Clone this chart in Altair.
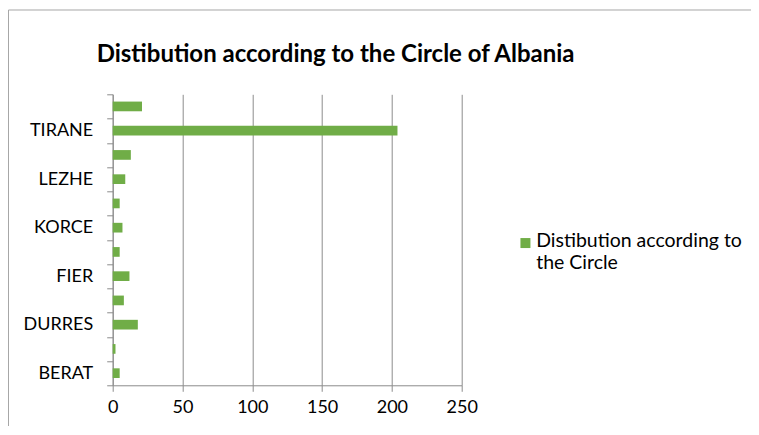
import altair as alt
import pandas as pd

# Categories top -> bottom
circles = ["VLORE", "TIRANE", "SHKODER", "LEZHE", "KUKES", "KORCE",
           "GJIROKASTER", "FIER", "ELBASAN", "DURRES", "DIBER", "BERAT"]
values = [21, 204, 13, 9, 5, 7, 5, 12, 8, 18, 2, 5]
shown_labels = ["TIRANE", "LEZHE", "KORCE", "FIER", "DURRES", "BERAT"]
x_ticks = [0, 50, 100, 150, 200, 250]
series_name = "Distibution according to the Circle"
legend_lines = ["Distibution according to", "the Circle"]
title_text = "Distibution according to the Circle of Albania"

df = pd.DataFrame({"circle": circles, "value": values, "series": series_name})

FONT = "Lato"
GREEN = "#70ad47"
GRID = "#8c8c8c"

shown_js = "[" + ",".join("'%s'" % s for s in shown_labels) + "]"
legend_js = "[" + ",".join("'%s'" % s for s in legend_lines) + "]"

bars = alt.Chart(df).mark_bar(color=GREEN, height=alt.RelativeBandSize(0.4)).encode(
    x=alt.X("value:Q",
            scale=alt.Scale(domain=[0, 250], nice=False),
            axis=alt.Axis(values=x_ticks, title=None, grid=True, gridColor=GRID,
                          domainColor=GRID, tickColor=GRID, tickSize=6,
                          labelFont=FONT, labelFontSize=18, labelColor="#000",
                          labelPadding=7, labelFlush=False)),
    y=alt.Y("circle:N", sort=circles,
            scale=alt.Scale(paddingInner=0, paddingOuter=0),
            axis=alt.Axis(title=None, tickBand="extent", tickSize=6,
                          tickColor=GRID, domainColor=GRID,
                          labelFont=FONT, labelFontSize=18, labelColor="#000",
                          labelPadding=14,
                          labelExpr="indexof(%s, datum.value) >= 0 ? datum.value : ''" % shown_js)),
    color=alt.Color("series:N",
                    scale=alt.Scale(range=[GREEN]),
                    legend=alt.Legend(title=None, orient="none", legendX=403, legendY=143,
                                      symbolType="M-1,-1.8H1V0.2H-1Z", symbolSize=100,
                                      symbolStrokeWidth=0,
                                      labelFont=FONT, labelFontSize=19.5, labelColor="#000",
                                      labelExpr=legend_js, labelLimit=300,
                                      labelBaseline="alphabetic", labelOffset=1)),
)

border = alt.Chart(pd.DataFrame({"b": [0]})).mark_rect(
    fill=None, stroke="#a6a6a6", strokeWidth=1
).encode(x=alt.value(-104.2), x2=alt.value(800), y=alt.value(-84.3), y2=alt.value(600))

chart = alt.layer(border, bars).properties(
    width=349, height=291,
    padding={"left": 104.7, "top": 86.3, "right": 289, "bottom": 41},
    autosize=alt.AutoSizeParams(type="none"),
    title=alt.TitleParams(title_text, anchor="start", frame="group", dx=-16,
                          offset=0, dy=76.5, baseline="alphabetic",
                          font=FONT, fontSize=24, fontWeight="bold", color="#000"),
).configure_view(stroke=None)

chart.save("out.html", embed_options={"renderer": "svg", "actions": False})
